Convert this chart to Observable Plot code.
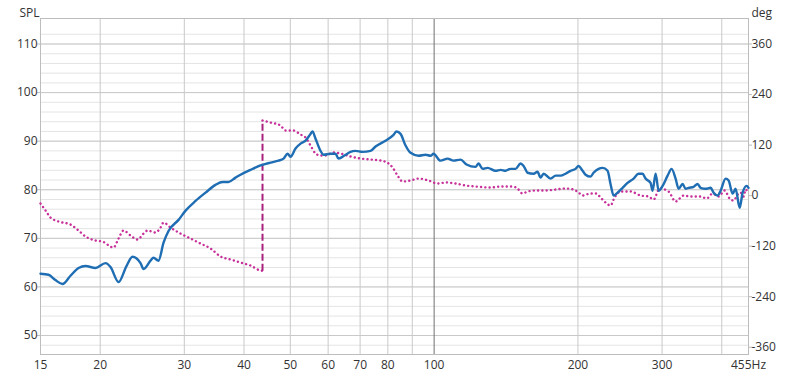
<!DOCTYPE html>
<html>
<head>
<meta charset="utf-8">
<script src="https://cdn.jsdelivr.net/npm/d3@7"></script>
<script src="https://cdn.jsdelivr.net/npm/@observablehq/plot@0.6"></script>
<style>
  html, body { margin: 0; padding: 0; background: #fff; }
  #chart { width: 800px; height: 378px; }
</style>
</head>
<body>
<div id="chart"></div>
<script>
// ---- data ----
const splFreq = [15, 15.59, 16.12, 16.68, 17.33, 18.02, 18.64, 19.55, 20.52, 21.02, 21.85, 22.70, 23.37, 24.29, 24.65, 25.49, 25.86, 26.49, 27.14, 27.80, 29.18, 30.18, 31.67, 33.23, 34.87, 36.07, 37.12, 38.40, 39.33, 41.28, 43.31, 45.46, 47.24, 48.39, 49.34, 50.05, 51.27, 52.53, 53.81, 55.12, 55.65, 56.47, 57.84, 58.68, 60.70, 62.18, 63.08, 65.25, 66.83, 68.46, 70.82, 73.60, 75.40, 79.12, 82.24, 83.43, 85.06, 87.14, 89.26, 92.77, 95.96, 98.29, 99.7, 103.1, 106.7, 109.8, 113.6, 116.9, 122.1, 123.9, 126.3, 129.4, 134.5, 137.8, 141.1, 144.5, 148.1, 151.7, 153.9, 156.9, 161.5, 164.6, 167.0, 169.5, 175.3, 179.6, 183.9, 188.4, 193.0, 197.7, 200.6, 204.5, 207.5, 212.5, 215.6, 220.9, 225.2, 230.7, 234.0, 237.5, 242.1, 248.0, 254.0, 261.5, 267.8, 273.1, 277.1, 283.8, 286.6, 290.8, 295.0, 300.8, 308.1, 314.1, 320.2, 324.9, 331.2, 336.0, 340.9, 349.2, 356.0, 361.2, 370.0, 379.1, 384.6, 392.1, 397.8, 407.5, 413.4, 421.5, 427.6, 436.0, 442.3, 450.9, 455];
const splValue = [62.7, 62.5, 61.4, 60.6, 62.3, 63.9, 64.3, 63.9, 64.9, 64.1, 61.0, 64.3, 66.2, 64.9, 63.7, 65.4, 66.0, 65.4, 69.1, 71.5, 73.8, 75.7, 77.7, 79.4, 81.0, 81.6, 81.6, 82.5, 83.1, 84.1, 85.0, 85.6, 86.0, 86.4, 87.4, 86.8, 88.5, 89.5, 90.1, 91.5, 92.0, 90.5, 88.0, 87.2, 87.4, 87.4, 86.4, 87.2, 87.8, 88.0, 87.8, 88.0, 88.9, 90.1, 91.3, 92.0, 91.5, 89.1, 87.6, 87.0, 87.2, 87.0, 87.4, 86.0, 86.4, 86.0, 86.2, 85.2, 84.7, 85.4, 84.3, 84.5, 83.9, 84.1, 83.9, 84.3, 84.3, 85.4, 84.9, 83.5, 83.3, 83.7, 82.5, 83.3, 82.3, 82.9, 82.9, 83.3, 83.9, 84.3, 84.9, 83.9, 83.1, 82.7, 83.5, 84.3, 84.5, 83.9, 81.2, 78.8, 79.4, 80.4, 81.4, 82.3, 83.3, 83.3, 82.3, 81.4, 79.8, 83.3, 79.8, 80.8, 82.9, 84.3, 82.3, 80.2, 81.2, 80.2, 80.4, 80.6, 81.2, 80.4, 80.2, 80.4, 79.4, 78.8, 79.8, 82.3, 81.9, 79.2, 80.2, 76.3, 79.4, 80.8, 80.4];

// phase, before the wrap at ~43.7 Hz
const phaseFreqA = [15, 15.37, 15.74, 16.36, 17.33, 18.02, 18.64, 19.55, 20.22, 21.33, 21.85, 22.38, 23.15, 23.94, 24.65, 25.12, 26.11, 26.75, 27.14, 28.07, 29.45, 30.91, 32.44, 34.05, 35.73, 37.49, 39.33, 41.28, 43.31, 43.73];
const phaseDegA = [-18.8, -35.4, -52.0, -61.5, -68.6, -82.9, -97.1, -106.6, -109.0, -123.3, -101.9, -82.9, -94.7, -104.3, -90.0, -82.9, -87.6, -75.8, -63.9, -75.8, -90.0, -101.9, -113.8, -125.6, -144.6, -151.7, -158.9, -166.0, -177.9, -178.5];
// phase, after the wrap
const phaseFreqB = [43.73, 45.46, 47.70, 48.86, 50.78, 52.53, 53.81, 55.12, 56.47, 57.84, 59.25, 61.58, 63.69, 66.83, 70.14, 73.60, 77.24, 80.28, 81.85, 83.84, 85.89, 89.26, 92.77, 97.35, 101.7, 105.7, 110.9, 116.4, 122.1, 131.2, 137.8, 146.0, 149.5, 153.1, 156.9, 163.0, 171.1, 179.6, 188.4, 195.8, 200.6, 204.5, 212.5, 218.8, 223.0, 228.5, 234.0, 238.6, 245.6, 257.8, 270.5, 281.1, 288.0, 296.5, 309.6, 320.2, 332.8, 344.2, 361.2, 371.9, 382.8, 394.0, 405.5, 415.4, 423.5, 431.8, 438.1, 444.5, 448.7, 455];
const phaseDegB = [178.3, 173.6, 166.5, 154.6, 154.6, 145.1, 138.0, 119.0, 100.0, 95.3, 95.3, 102.4, 100.0, 92.9, 88.1, 85.7, 83.4, 76.3, 66.8, 47.7, 33.5, 35.9, 40.6, 35.9, 28.7, 31.1, 28.7, 24.0, 21.6, 19.2, 21.6, 21.6, 16.9, 5.0, 9.7, 12.1, 12.1, 14.5, 16.9, 14.5, 7.4, 0.2, 5.0, 5.0, -4.5, -16.4, -23.5, -4.5, 9.7, 9.7, 0.2, -2.1, -9.3, 16.9, 9.7, -14.0, 0.2, -2.1, -2.1, -6.9, 5.0, -2.1, 12.1, -6.9, -11.6, 2.6, 7.4, -2.1, 14.5, 5.0];
// phase wrap (dashed vertical)
const wrapFreq = [43.73];
const wrapFrom = [-178.5];
const wrapTo = [178.3];

// tick labels
const freqTicks = [15, 20, 30, 40, 50, 60, 70, 80, 90, 100, 200, 300, 455];
const freqGrid = [20, 30, 40, 50, 60, 70, 80, 90, 200, 300, 400];
const freqMajor = [100];
const splTicks = [50, 60, 70, 80, 90, 100, 110];
const splMinor = d3.range(48, 113, 2);
const degTicks = [360, 240, 120, 0, -120, -240, -360];

// ---- mapping of the right (deg) axis onto the left (SPL) axis ----
const degZero = 78.79, dbPerDeg = 0.08668;
const toSpl = d => degZero + d * dbPerDeg;
const toDeg = s => Math.round(((s - degZero) / dbPerDeg) / 120) * 120;

const spl = splFreq.map((f, i) => ({f, v: splValue[i]}));
const phA = phaseFreqA.map((f, i) => ({f, v: toSpl(phaseDegA[i])}));
const phB = phaseFreqB.map((f, i) => ({f, v: toSpl(phaseDegB[i])}));
const wrap = wrapFreq.map((f, i) => ({f, y1: toSpl(wrapFrom[i]), y2: toSpl(wrapTo[i])}));

const font = "'Open Sans', 'Noto Sans', sans-serif";
const blue = "#1f6db3";
const pink = "#c8309a";

const chart = Plot.plot({
  width: 800,
  height: 378,
  marginTop: 18,
  marginRight: 52,
  marginBottom: 24,
  marginLeft: 40,
  style: {fontFamily: font, fontSize: "12px", color: "#333", background: "#fff"},
  x: {type: "log", domain: [15, 455], axis: null},
  y: {domain: [46.09, 115.25], axis: null},
  marks: [
    Plot.ruleY(splMinor, {stroke: "#e4e4e4", strokeWidth: 1}),
    Plot.ruleY(splTicks, {stroke: "#c9c9c9", strokeWidth: 1}),
    Plot.ruleX(freqGrid, {stroke: "#c9c9c9", strokeWidth: 1}),
    Plot.ruleX(freqMajor, {stroke: "#707070", strokeWidth: 1}),
    Plot.frame({stroke: "#bdbdbd"}),
    Plot.line(phA, {x: "f", y: "v", stroke: pink, strokeWidth: 2.4, strokeDasharray: "0.1,4.2", strokeLinecap: "round", curve: "monotone-x"}),
    Plot.line(phB, {x: "f", y: "v", stroke: pink, strokeWidth: 2.4, strokeDasharray: "0.1,4.2", strokeLinecap: "round", curve: "monotone-x"}),
    Plot.link(wrap, {x1: "f", x2: "f", y1: "y1", y2: "y2", stroke: "#a8217c", strokeWidth: 2, strokeDasharray: "7,3"}),
    Plot.line(spl, {x: "f", y: "v", stroke: blue, strokeWidth: 2.4, curve: "monotone-x"}),
    Plot.axisX({ticks: freqTicks, tickSize: 0, tickPadding: 6, tickFormat: d => d === 455 ? "455Hz" : String(d), fill: "#333", label: null}),
    Plot.axisY({anchor: "left", ticks: splTicks, tickSize: 3, tickPadding: 0, stroke: "#bdbdbd", fill: "#333", tickFormat: d => String(d), label: null}),
    Plot.axisY({anchor: "right", ticks: degTicks.map(toSpl), tickSize: 3, tickPadding: 0, stroke: "#bdbdbd", fill: "#333", tickFormat: d => String(toDeg(d)), label: null}),
    Plot.text(["SPL"], {frameAnchor: "top-left", dx: -21, dy: -10, textAnchor: "start", fill: "#333", fontSize: 12}),
    Plot.text(["deg"], {frameAnchor: "top-right", dx: 3, dy: -10, textAnchor: "start", fill: "#333", fontSize: 12})
  ]
});
document.getElementById("chart").appendChild(chart);
</script>
</body>
</html>
